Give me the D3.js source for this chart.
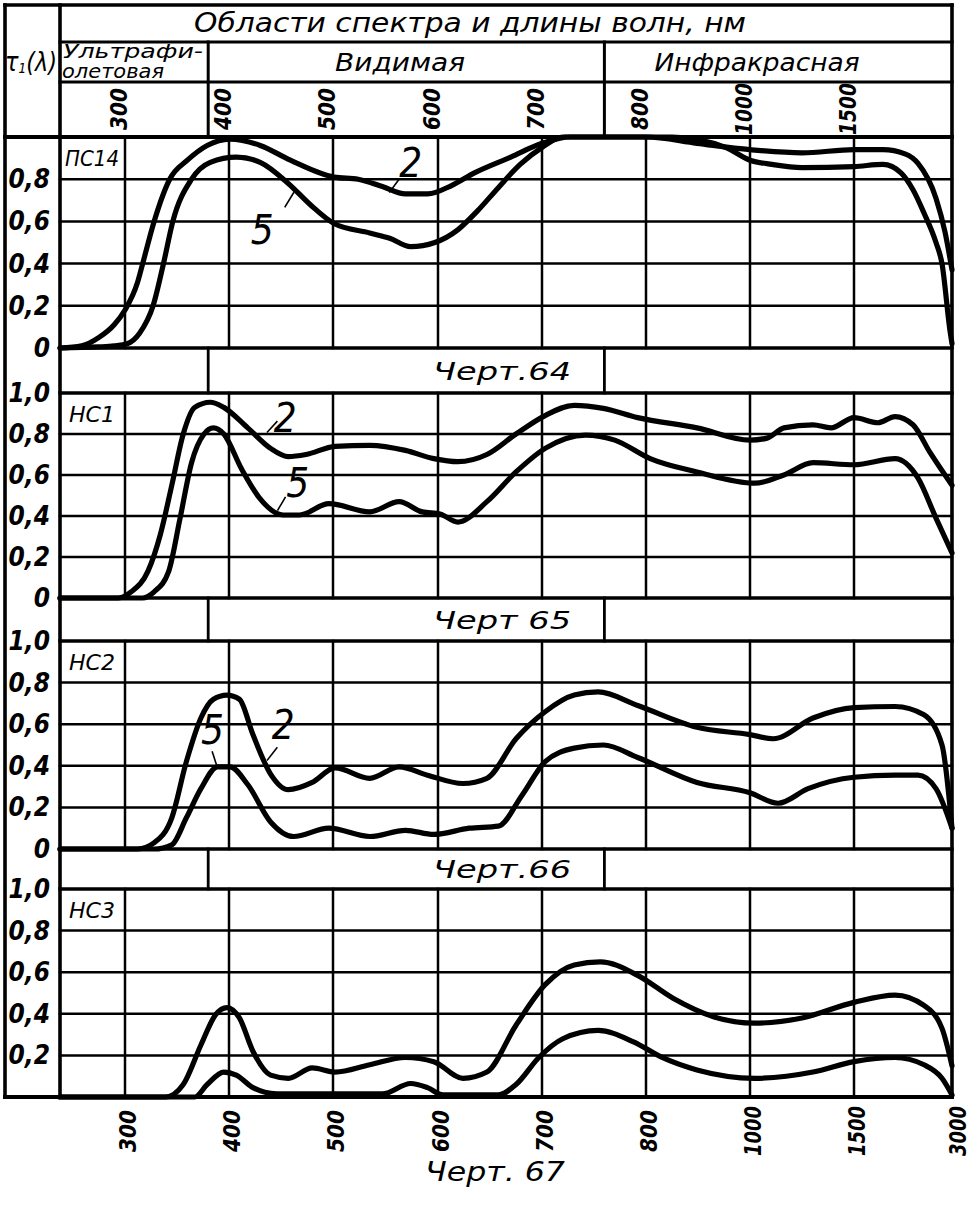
<!DOCTYPE html>
<html><head><meta charset="utf-8">
<script src="https://cdn.jsdelivr.net/npm/d3@7"></script>
<style>body{margin:0;background:#fff}svg{display:block}</style>
</head><body>
<svg id="c" width="971" height="1208"></svg>
<script>
// ---------- data ----------
const tickValues = [300, 400, 500, 600, 700, 800, 1000, 1500, 3000];
const tickLabels = ["300", "400", "500", "600", "700", "800", "1000", "1500", "3000"];
const headerTickLabels = ["300", "400", "500", "600", "700", "800", "1000", "1500"];
const yTickValues = [0, 0.2, 0.4, 0.6, 0.8, 1.0];
const regionNames = ["Ультрафи-олетовая", "Видимая", "Инфракрасная"];
const regionEdges = [380, 760];
const panelNames = ["ПС14", "НС1", "НС2", "НС3"];
const captions = ["Черт.64", "Черт 65", "Черт.66", "Черт. 67"];
const headerTitle = "Области спектра и длины волн,  нм";

const ps14_2 = [[240,0],[260,0.01],[276,0.05],[290,0.11],[300,0.18],[312,0.31],[317,0.4],[328,0.6],[343,0.8],[360,0.89],[379,0.96],[401,0.99],[430,0.96],[459,0.89],[501,0.81],[524,0.8],[547,0.765],[569,0.73],[590,0.73],[613,0.77],[635,0.83],[670,0.905],[700,0.97],[727,1.0],[800,1.0],[898,0.97],[1000,0.94],[1250,0.925],[1500,0.94],[1944,0.94],[2280,0.92],[2480,0.875],[2755,0.71],[2893,0.55],[3000,0.37]];
const ps14_5 = [[240,0],[275,0.005],[290,0.01],[302,0.02],[314,0.07],[327,0.2],[337,0.4],[346,0.6],[364,0.8],[382,0.88],[407,0.905],[430,0.88],[457,0.78],[478,0.68],[501,0.59],[535,0.545],[554,0.52],[574,0.48],[597,0.5],[619,0.56],[638,0.65],[658,0.76],[679,0.87],[700,0.95],[720,1.0],[850,1.0],[954,0.95],[1000,0.89],[1106,0.87],[1250,0.855],[1500,0.86],[1944,0.87],[2219,0.83],[2403,0.75],[2571,0.64],[2755,0.5],[2847,0.4],[2970,0.08],[3000,0.02]];
const hc1_2 = [[240,0],[294,0],[306,0.03],[322,0.13],[334,0.31],[345,0.55],[356,0.8],[367,0.93],[382,0.955],[395,0.93],[418,0.83],[440,0.73],[457,0.69],[474,0.7],[502,0.74],[535,0.745],[569,0.72],[596,0.68],[619,0.665],[647,0.7],[675,0.8],[703,0.89],[731,0.94],[759,0.925],[792,0.88],[898,0.83],[1000,0.77],[1082,0.78],[1163,0.83],[1303,0.845],[1389,0.83],[1500,0.88],[1867,0.855],[2128,0.885],[2403,0.845],[2663,0.71],[3000,0.55]];
const hc1_5 = [[240,0],[317,0],[328,0.03],[342,0.13],[353,0.39],[364,0.66],[376,0.8],[385,0.83],[395,0.8],[412,0.63],[429,0.49],[452,0.405],[468,0.405],[496,0.46],[535,0.42],[563,0.47],[585,0.42],[602,0.41],[619,0.37],[647,0.47],[675,0.615],[703,0.73],[742,0.795],[770,0.77],[808,0.68],[898,0.615],[1024,0.56],[1163,0.6],[1303,0.66],[1500,0.65],[2128,0.68],[2480,0.585],[2755,0.39],[3000,0.22]];
const hc2_2 = [[240,0],[312,0],[328,0.03],[345,0.15],[359,0.42],[373,0.63],[385,0.72],[398,0.74],[410,0.72],[423,0.55],[440,0.36],[457,0.285],[480,0.32],[502,0.39],[535,0.34],[563,0.395],[590,0.355],[624,0.315],[647,0.34],[675,0.53],[703,0.66],[731,0.74],[754,0.755],[792,0.69],[898,0.585],[1000,0.55],[1111,0.53],[1303,0.63],[1500,0.68],[2128,0.685],[2571,0.645],[2847,0.5],[3000,0.1]];
const hc2_5 = [[240,0],[328,0],[345,0.02],[359,0.15],[373,0.29],[389,0.395],[401,0.395],[418,0.31],[440,0.13],[462,0.06],[496,0.1],[535,0.06],[569,0.09],[596,0.07],[630,0.1],[658,0.11],[681,0.26],[703,0.42],[731,0.485],[759,0.5],[792,0.44],[898,0.32],[1000,0.27],[1135,0.22],[1279,0.29],[1500,0.345],[2128,0.355],[2480,0.355],[2755,0.29],[3000,0.1]];
const hc3_2 = [[240,0],[339,0],[356,0.06],[373,0.25],[387,0.395],[398,0.43],[410,0.38],[423,0.22],[440,0.105],[457,0.09],[480,0.14],[502,0.12],[535,0.155],[569,0.19],[596,0.17],[624,0.09],[647,0.12],[675,0.345],[703,0.54],[731,0.635],[756,0.65],[792,0.585],[852,0.475],[931,0.385],[1024,0.355],[1250,0.38],[1500,0.455],[2128,0.49],[2571,0.44],[2847,0.33],[3000,0.15]];
const hc3_5 = [[240,0],[367,0],[379,0.06],[395,0.12],[407,0.105],[423,0.045],[446,0.015],[547,0.015],[574,0.065],[590,0.045],[605,0.01],[658,0.01],[675,0.06],[697,0.19],[720,0.28],[754,0.32],[788,0.265],[831,0.19],[898,0.13],[1024,0.09],[1303,0.12],[1500,0.17],[2128,0.19],[2571,0.155],[2847,0.09],[3000,0.01]];

const panelSeries = [[ps14_2, ps14_5], [hc1_2, hc1_5], [hc2_2, hc2_5], [hc3_2, hc3_5]];
// curve label annotations: [text, nm, value, leaderFrom[nm,val], leaderTo[nm,val]]
const curveLabels = [
  [["2", 574, 0.877, [554, 0.74], [563, 0.80]], ["5", 432, 0.56, [454, 0.67], [462, 0.735]]],
  [["2", 454, 0.878, [437, 0.81], [446, 0.86]], ["5", 466, 0.56, [447, 0.43], [454, 0.49]]],
  [["5", 384, 0.572, [384, 0.466], [388, 0.404]], ["2", 452, 0.596, [437, 0.428], [446, 0.486]]],
  []
];

// ---------- layout ----------
const L = 5, Lc = 60, R = 952, T = 5;
const panels = [[137, 348], [393, 598], [641, 849], [889, 1097]];
const FONT = "'DejaVu Sans Condensed','Liberation Sans Narrow','DejaVu Sans',sans-serif";

const x = d3.scaleLinear()
  .domain([240].concat(tickValues))
  .range([60, 125, 229, 333, 438, 542, 646, 750, 854, 952]);

const svg = d3.select("#c");
svg.append("rect").attr("width", 971).attr("height", 1208).attr("fill", "#fff");
const g = svg.append("g");

function line(x1, y1, x2, y2, w) {
  g.append("line").attr("x1", x1).attr("y1", y1).attr("x2", x2).attr("y2", y2)
    .attr("stroke", "#000").attr("stroke-width", w).attr("stroke-linecap", "square");
}
function text(t, px, py, size, opts = {}) {
  const el = g.append("text").attr("x", px).attr("y", py).text(t)
    .attr("font-family", opts.family || FONT).attr("font-size", size)
    .attr("font-style", opts.style || "italic")
    .attr("font-weight", opts.weight || "normal")
    .attr("text-anchor", opts.anchor || "middle")
    .attr("dominant-baseline", "central").attr("fill", "#000");
  if (opts.len) el.attr("textLength", opts.len).attr("lengthAdjust", "spacingAndGlyphs");
  if (opts.rot) el.attr("transform", `rotate(${opts.rot},${px},${py})`);
  return el;
}

// ---------- panels ----------
const lineGen = d3.line().curve(d3.curveMonotoneX);
panels.forEach(([top, bot], i) => {
  const y = d3.scaleLinear().domain([0, 1]).range([bot, top]);
  yTickValues.slice(1, 5).forEach(v => line(Lc, y(v), R, y(v), 2.5));
  tickValues.slice(0, 8).forEach(v => line(x(v), top, x(v), bot, 2.5));
  yTickValues.forEach(v => {
    if (i === 0 && v === 1) return;
    if (i === 3 && v === 0) return;
    const lab = v === 0 ? "0" : d3.format(".1f")(v).replace(".", ",");
    text(lab, 50, y(v), 26, { anchor: "end", weight: "bold" });
  });
  text(panelNames[i], 92, (y(1) + y(0.8)) / 2 + 1, 21, { len: panelNames[i].length > 3 ? 54 : 46 });
  panelSeries[i].forEach(s => {
    g.append("path")
      .attr("d", lineGen(s.map(d => [x(d[0]), y(d[1])])))
      .attr("fill", "none").attr("stroke", "#000").attr("stroke-width", 5.2)
      .attr("stroke-linejoin", "round").attr("stroke-linecap", "round");
  });
  curveLabels[i].forEach(([t, nm, v, a, b]) => {
    line(x(a[0]), y(a[1]), x(b[0]), y(b[1]), 1.6);
    text(t, x(nm), y(v), 40, { family: "'DejaVu Sans ExtraLight','DejaVu Sans Condensed',sans-serif" });
  });
  line(Lc, top, R, top, 3.4);
  line(Lc, bot, R, bot, 3.4);
});

// ---------- bands between panels ----------
for (let i = 0; i < 3; i++) {
  const top = panels[i][1], bot = panels[i + 1][0];
  regionEdges.forEach(v => line(x(v), top, x(v), bot, 2.8));
  text(captions[i], 502, (top + bot) / 2 + 1, 24, { len: 138 });
}

// ---------- header ----------
line(Lc, 42, R, 42, 3);
line(Lc, 82, R, 82, 3);
line(L, 137, R, 137, 4);
regionEdges.forEach(v => line(x(v), 42, x(v), 137, 3));
text(headerTitle, 470, 23, 26, { len: 552 });
text("Ультрафи-", 133, 51, 19, { len: 140 });
text("олетовая", 113, 71, 19, { len: 102 });
text(regionNames[1], 400, 62, 25, { len: 130 });
text(regionNames[2], 757, 62, 25, { len: 205 });
const tau = g.append("text").attr("x", 31).attr("y", 62)
  .attr("font-family", FONT).attr("font-size", 26).attr("font-style", "italic")
  .attr("text-anchor", "middle").attr("dominant-baseline", "central")
  .attr("textLength", 52).attr("lengthAdjust", "spacingAndGlyphs");
tau.append("tspan").text("τ");
tau.append("tspan").text("1").attr("font-size", 14).attr("dy", 6);
tau.append("tspan").text("(λ)").attr("dy", -6);
headerTickLabels.forEach((t, k) => {
  text(t, x(tickValues[k]) - 6, 109, 23, { rot: -90, weight: "bold", len: t.length > 3 ? 52 : 42 });
});

// ---------- bottom axis ----------
tickLabels.forEach((t, k) => {
  const px = k === 8 ? 958 : x(tickValues[k]) + 3;
  text(t, px, 1131, 23, { rot: -90, weight: "bold", len: t.length > 3 ? 50 : 42 });
});
text(captions[3], 495, 1172, 26, { len: 140 });

// ---------- outer frame ----------
line(L, T, R, T, 3.6);
line(L, T, L, 1097, 3.6);
line(R, T, R, 1097, 3.6);
line(Lc, T, Lc, 1097, 3.6);
line(L, 1097, R, 1097, 4);
</script>
</body></html>
